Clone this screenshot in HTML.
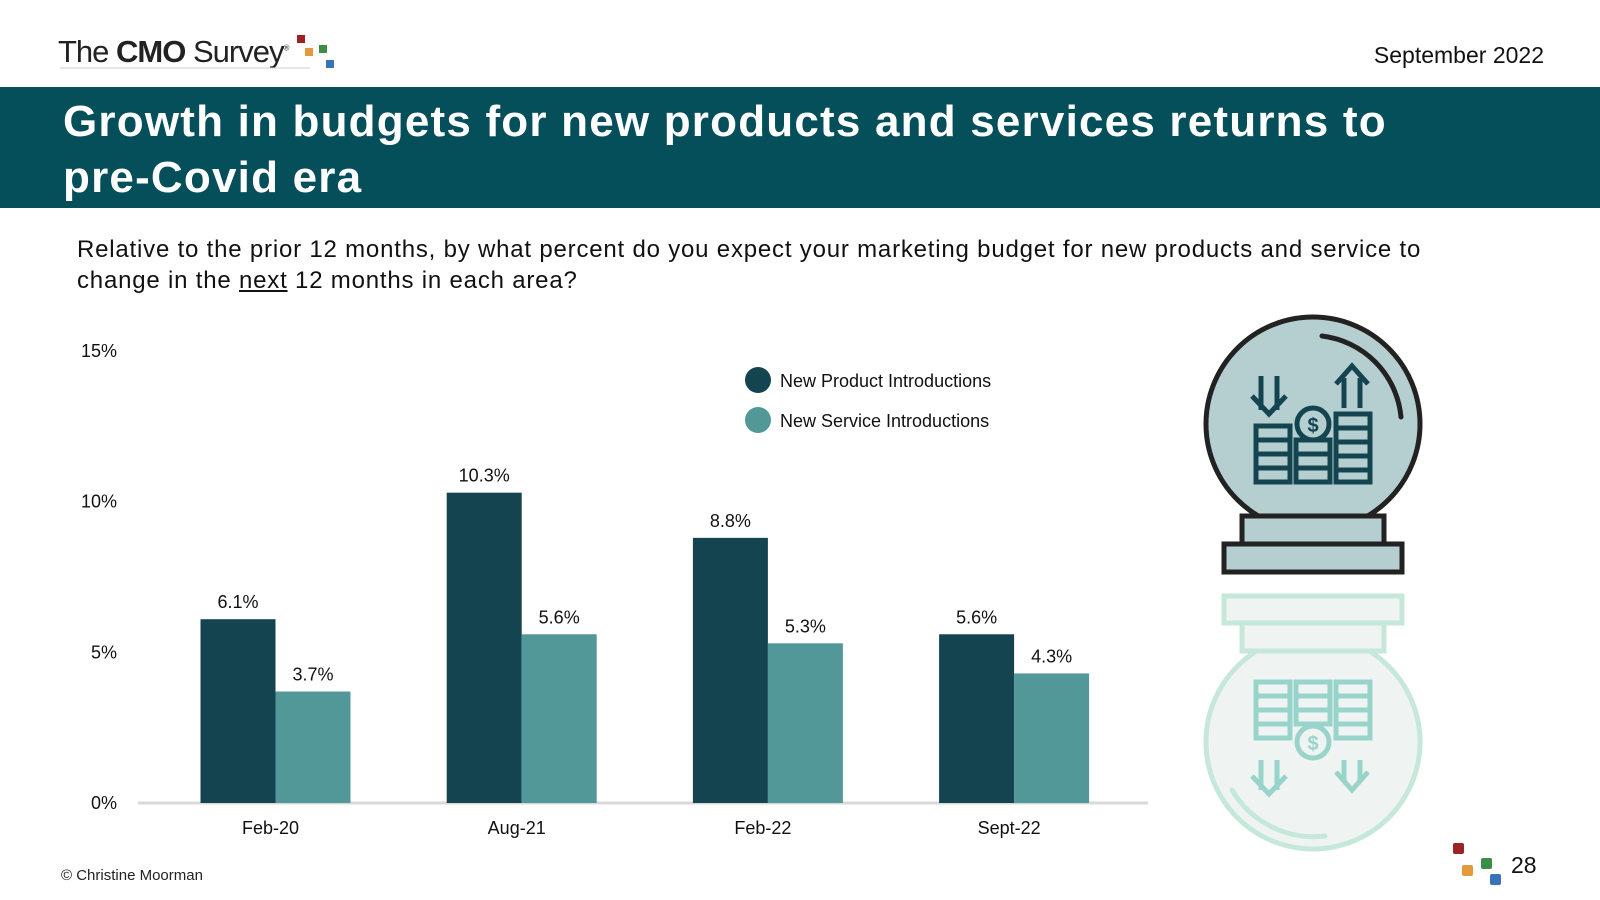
<!DOCTYPE html>
<html><head><meta charset="utf-8">
<style>
body{margin:0;width:1600px;height:900px;background:#fff;position:relative;overflow:hidden;font-family:"Liberation Sans",Arial,sans-serif;}
.abs{position:absolute;}
</style></head>
<body>
<div class="abs" style="left:58px;top:34px;font-size:31px;color:#222;letter-spacing:-1px;">The <b>CMO</b> Survey<sup style="font-size:8px">®</sup></div>
<svg class="abs" style="left:0;top:0" width="400" height="80">
<line x1="60" y1="68" x2="310" y2="68" stroke="#ccc" stroke-width="1"/>
<rect x="297" y="35" width="8" height="8" fill="#9b2323"/><rect x="305" y="48" width="8" height="8" fill="#e39a3c"/>
<rect x="319" y="45" width="8" height="8" fill="#3d8d4a"/><rect x="326" y="60" width="8" height="8" fill="#3a72b8"/>
</svg>
<div class="abs" style="right:56px;top:42px;font-size:23px;color:#111;">September 2022</div>
<div class="abs" style="left:0;top:87px;width:1600px;height:121px;background:#044f59;"></div>
<div class="abs" style="left:63px;top:94px;width:1530px;white-space:nowrap;font-size:44px;line-height:56px;color:#fff;font-family:'Liberation Sans',sans-serif;font-weight:bold;letter-spacing:1.2px;">Growth in budgets for new products and services returns to<br>pre-Covid era</div>
<div class="abs" style="left:77px;top:234px;width:1480px;white-space:nowrap;font-size:24px;line-height:31px;color:#111;letter-spacing:0.8px;">Relative to the prior 12 months, by what percent do you expect your marketing budget for new products and service to<br>change in the <u>next</u> 12 months in each area?</div>

<svg id="chart" class="abs" style="left:0;top:0" width="1600" height="900"></svg>

<svg class="abs" style="left:0;top:0" width="1600" height="900">
 <g>
  <circle cx="1313" cy="424" r="107" fill="#b5cfd0" stroke="#222" stroke-width="5"/>
  <path d="M1322 336 A90 90 0 0 1 1401 417" fill="none" stroke="#222" stroke-width="5" stroke-linecap="round"/>
  <rect x="1242" y="516" width="142" height="28" fill="#b5cfd0" stroke="#222" stroke-width="5"/>
  <rect x="1224" y="544" width="178" height="28" fill="#b5cfd0" stroke="#222" stroke-width="5"/>
  <g fill="none" stroke="#154451" stroke-width="5">
   <rect x="1256" y="426" width="34" height="56"/><rect x="1296" y="440" width="34" height="42"/><rect x="1336" y="414" width="34" height="68"/>
   <path d="M1256 440h34M1256 454h34M1256 468h34M1296 454h34M1296 468h34M1336 428h34M1336 442h34M1336 456h34M1336 470h34"/>
   <circle cx="1313" cy="424" r="16"/>
   <path d="M1261 376v34M1277 376v34M1252 396l17 18 17-18"/>
   <path d="M1344 408v-30M1360 408v-30M1336 384l16-18 16 18"/>
  </g>
  <text x="1313" y="432" font-size="20" font-weight="bold" fill="#154451" text-anchor="middle">$</text>
 </g>
 <g opacity="0.9">
  <circle cx="1313" cy="742" r="107" fill="#eef3f2" stroke="#bfe6d6" stroke-width="5"/>
  <path d="M1232 790 A95 95 0 0 0 1325 836" fill="none" stroke="#bfe6d6" stroke-width="5" stroke-linecap="round"/>
  <rect x="1242" y="623" width="142" height="28" fill="#eef3f2" stroke="#bfe6d6" stroke-width="5"/>
  <rect x="1224" y="596" width="178" height="27" fill="#eef3f2" stroke="#bfe6d6" stroke-width="5"/>
  <g fill="none" stroke="#8fd0c6" stroke-width="5">
   <rect x="1256" y="682" width="34" height="56"/><rect x="1296" y="682" width="34" height="42"/><rect x="1336" y="682" width="34" height="56"/>
   <path d="M1256 696h34M1256 710h34M1256 724h34M1296 696h34M1296 710h34M1336 696h34M1336 710h34M1336 724h34"/>
   <circle cx="1313" cy="742" r="16"/>
   <path d="M1261 760v30M1277 760v30M1252 776l17 18 17-18"/>
   <path d="M1344 760v22M1360 760v22M1336 772l16 18 16-18"/>
  </g>
  <text x="1313" y="750" font-size="20" font-weight="bold" fill="#8fd0c6" text-anchor="middle">$</text>
 </g>
</svg>

<div class="abs" style="left:61px;top:867px;font-size:15px;color:#222;">© Christine Moorman</div>
<svg class="abs" style="left:1450px;top:840px" width="60" height="50">
<rect x="3" y="3" width="11" height="11" rx="2" fill="#9b2323"/><rect x="12" y="25" width="11" height="11" rx="2" fill="#e39a3c"/>
<rect x="31" y="18" width="11" height="11" rx="2" fill="#3d8d4a"/><rect x="40" y="34" width="11" height="11" rx="2" fill="#3a72b8"/>
</svg>
<div class="abs" style="left:1511px;top:852px;font-size:23px;color:#111;">28</div>

<script>
const categories = ["Feb-20","Aug-21","Feb-22","Sept-22"];
const productValues = [6.1, 10.3, 8.8, 5.6];
const serviceValues = [3.7, 5.6, 5.3, 4.3];
const yTicks = [0, 5, 10, 15];
const seriesNames = ["New Product Introductions","New Service Introductions"];

const svg = document.getElementById('chart');
const NS = 'http://www.w3.org/2000/svg';
const y0 = 803, pxPer = 30.13;
const yScale = v => y0 - v * pxPer;
const xCenter = i => 275.5 + i * 246.2;
const barW = 75;
function mk(tag, attrs, text){
  const e = document.createElementNS(NS, tag);
  for (const k in attrs) e.setAttribute(k, attrs[k]);
  if (text !== undefined) e.textContent = text;
  svg.appendChild(e); return e;
}
yTicks.forEach(t => {
  const e = mk('text', {x:117, y:yScale(t)+6, 'text-anchor':'end', 'font-size':18, fill:'#111'}, t + '%');
  
  
});
const ax = mk('line', {x1:138, x2:1148, y1:y0, y2:y0, stroke:'#d9d9d9', 'stroke-width':3});


categories.forEach((c, i) => {
  const cx = xCenter(i);
  [[productValues[i], '#154451', cx - barW, 'bar-product'], [serviceValues[i], '#529899', cx, 'bar-service']].forEach(([v, col, x, nm]) => {
    const r = mk('rect', {x:x, y:yScale(v), width:barW, height:v*pxPer, fill:col});
    
    
    const t = mk('text', {x:x + barW/2, y:yScale(v) - 11, 'text-anchor':'middle', 'font-size':18, fill:'#111'}, v.toFixed(1) + '%');
    
    
  });
  const l = mk('text', {x:cx - 5, y:834, 'text-anchor':'middle', 'font-size':18, fill:'#111'}, c);
  
  
});
const legCols = ['#154451', '#529899'];
seriesNames.forEach((n, i) => {
  const cy = 380 + i * 40;
  const c = mk('circle', {cx:758, cy:cy, r:13, fill:legCols[i]});
  
  
  const t = mk('text', {x:780, y:cy + 7, 'font-size':18, fill:'#111'}, n);
  
  
});
</script>
</body></html>
